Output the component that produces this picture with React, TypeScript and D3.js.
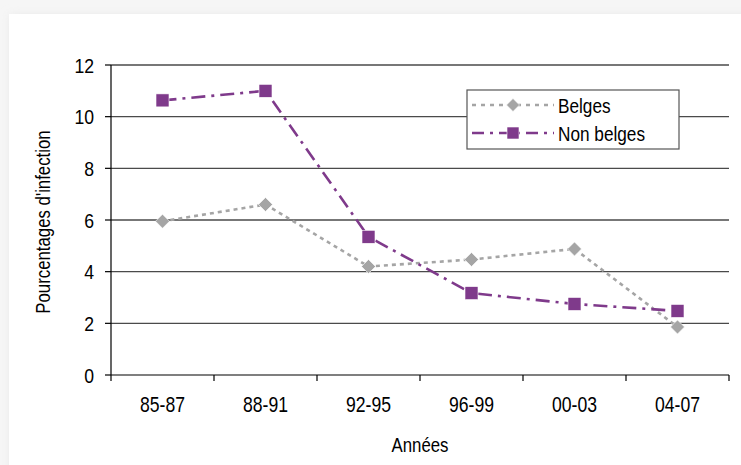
import React from "react";
import * as d3 from "d3";

const categories = ["85-87", "88-91", "92-95", "96-99", "00-03", "04-07"];
const belges = [5.95, 6.6, 4.2, 4.47, 4.88, 1.86];
const nonBelges = [10.63, 11.0, 5.35, 3.17, 2.75, 2.48];
const yTicks = [0, 2, 4, 6, 8, 10, 12];

const W = 741;
const H = 465;
const margin = { left: 111, right: 12, top: 65, bottom: 90 };
const FONT = "'Liberation Sans', Arial, sans-serif";
const PURPLE = "#7f3a8b";
const GRAY = "#a5a5a5";

// Condensed text: regular sans squeezed horizontally
function NText({
  x,
  y,
  size,
  sx,
  anchor = "start",
  dy,
  rotate = 0,
  children,
}: {
  x: number;
  y: number;
  size: number;
  sx: number;
  anchor?: "start" | "middle" | "end";
  dy?: string;
  rotate?: number;
  children: React.ReactNode;
}) {
  return (
    <g transform={`translate(${x},${y}) rotate(${rotate}) scale(${sx},1)`}>
      <text textAnchor={anchor} dy={dy} fontFamily={FONT} fontSize={size} fill="#000">
        {children}
      </text>
    </g>
  );
}

function Diamond({ x, y, r }: { x: number; y: number; r: number }) {
  return (
    <path
      d={`M${x},${y - r}L${x + r},${y}L${x},${y + r}L${x - r},${y}Z`}
      fill={GRAY}
      stroke="#fff"
      strokeWidth={0.6}
    />
  );
}

function Square({ x, y, s }: { x: number; y: number; s: number }) {
  return <rect x={x - s / 2} y={y - s / 2} width={s} height={s} fill={PURPLE} stroke="#fff" strokeWidth={0.6} />;
}

export default function App() {
  const x = d3
    .scaleBand<string>()
    .domain(categories)
    .range([margin.left, W - margin.right])
    .padding(0);
  const y = d3.scaleLinear().domain([0, 12]).range([H - margin.bottom, margin.top]);
  const cx = (c: string) => (x(c) ?? 0) + x.bandwidth() / 2;

  const line = d3
    .line<number>()
    .x((_, i) => cx(categories[i]))
    .y((v) => y(v));

  const x0 = margin.left;
  const x1 = W - margin.right;
  const yBase = y(0);
  const boundaries = [...categories.map((c) => x(c) ?? 0), x1];

  const lgX = 467;
  const lgY = 90;
  const lgW = 212;
  const lgH = 59;

  return (
    <div style={{ position: "fixed", left: 0, top: 0 }}>
      <svg width={W} height={H} style={{ display: "block" }}>
        <defs>
          <filter id="cardShadow" x="-5%" y="-5%" width="110%" height="110%">
            <feGaussianBlur stdDeviation="5" />
          </filter>
        </defs>
        <rect x={0} y={0} width={W} height={H} fill="#f6f6f6" />
        <rect x={10} y={15} width={W} height={H} fill="#e8e8e8" filter="url(#cardShadow)" />
        <rect x={9} y={14} width={W} height={H} fill="#ffffff" />

        {/* horizontal gridlines */}
        {yTicks
          .filter((t) => t > 0)
          .map((t) => (
            <line key={t} x1={x0} x2={x1} y1={y(t)} y2={y(t)} stroke="#4a4a4a" strokeWidth={1.3} />
          ))}

        {/* axes */}
        <line x1={x0} x2={x0} y1={y(12)} y2={yBase} stroke="#000" strokeWidth={1.2} />
        <line x1={x0} x2={x1} y1={yBase} y2={yBase} stroke="#000" strokeWidth={1.2} />
        {yTicks.map((t) => (
          <g key={t}>
            <line x1={x0 - 6} x2={x0} y1={y(t)} y2={y(t)} stroke="#000" strokeWidth={1.2} />
            <NText x={x0 - 17} y={y(t)} dy="0.36em" anchor="end" size={21} sx={0.84}>
              {t}
            </NText>
          </g>
        ))}
        {boundaries.map((b, i) => (
          <line key={i} x1={b} x2={b} y1={yBase} y2={yBase + 6} stroke="#000" strokeWidth={1.2} />
        ))}
        {categories.map((c) => (
          <NText key={c} x={cx(c)} y={412} anchor="middle" size={22} sx={0.8}>
            {c}
          </NText>
        ))}

        {/* axis titles */}
        <NText x={420} y={452} anchor="middle" size={21} sx={0.8}>
          Années
        </NText>
        <NText x={50} y={(y(12) + yBase) / 2 + 2} anchor="middle" size={20} sx={0.84} rotate={-90}>
          Pourcentages d'infection
        </NText>

        {/* series */}
        <path d={line(belges) ?? ""} fill="none" stroke={GRAY} strokeWidth={2.6} strokeDasharray="4,4" />
        <path
          d={line(nonBelges) ?? ""}
          fill="none"
          stroke={PURPLE}
          strokeWidth={2.6}
          strokeDasharray="14,6,3,6"
        />
        {belges.map((v, i) => (
          <Diamond key={i} x={cx(categories[i])} y={y(v)} r={7} />
        ))}
        {nonBelges.map((v, i) => (
          <Square key={i} x={cx(categories[i])} y={y(v)} s={13} />
        ))}

        {/* legend */}
        <rect x={lgX} y={lgY} width={lgW} height={lgH} fill="#fff" stroke="#555" strokeWidth={1.2} />
        <line x1={472} x2={554} y1={105} y2={105} stroke={GRAY} strokeWidth={2.4} strokeDasharray="4,5" />
        <Diamond x={513} y={105} r={6.5} />
        <NText x={558} y={105} dy="0.36em" size={21} sx={0.82}>
          Belges
        </NText>
        <line x1={472} x2={554} y1={133} y2={133} stroke={PURPLE} strokeWidth={2.4} strokeDasharray="12,6,3,6" />
        <Square x={513} y={133} s={12} />
        <NText x={558} y={133} dy="0.36em" size={21} sx={0.82}>
          Non belges
        </NText>
      </svg>
    </div>
  );
}
